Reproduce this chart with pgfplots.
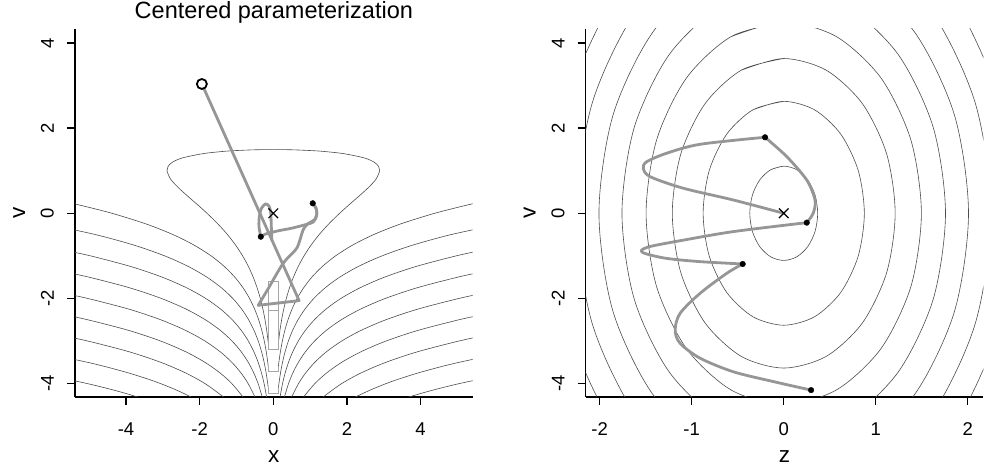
\documentclass[border=0pt]{standalone}
\usepackage{fontspec}
\setmainfont{Liberation Sans}
\usepackage{graphicx}
\usepackage{pgfplots}
\pgfplotsset{compat=1.18}
\usepackage{pgfplotstable}

\definecolor{traj}{RGB}{150,150,150}

% contour lines of the centered funnel (right half, x >= 0; mirrored for x < 0)
\pgfplotstableread{
x v
0.138 -3.03
0.1429 -3.0
0.1797 -2.75
0.2255 -2.5
0.2824 -2.25
0.3527 -2.0
0.4397 -1.75
0.546 -1.5
0.676 -1.25
0.8332 -1.0
1.0217 -0.75
1.245 -0.5
1.505 -0.25
1.8 0
2.057 0.2
2.322 0.4
2.577 0.6
2.787 0.8
2.888 1.0
2.859 1.1
2.738 1.2
2.468 1.3
1.91 1.4
1.39 1.45
1.065 1.47
0.514 1.49
0 1.496
}\kzero
\pgfplotstableread{
x v
0.138 -3.6
0.1505 -3.5
0.192 -3.25
0.245 -3.0
0.3123 -2.75
0.398 -2.5
0.507 -2.25
0.6454 -2.0
0.8218 -1.75
1.0453 -1.5
1.3293 -1.25
1.6895 -1.0
2.146 -0.75
2.724 -0.5
3.456 -0.25
4.382 0
5.295 0.2
5.82 0.3
}\kone
\pgfplotstableread{
x v
0.1388 -4.09
0.1516 -4.0
0.1944 -3.75
0.2491 -3.5
0.3191 -3.25
0.4088 -3.0
0.5235 -2.75
0.6705 -2.5
0.8585 -2.25
1.0988 -2.0
1.4072 -1.75
1.801 -1.5
2.305 -1.25
2.950 -1.0
3.774 -0.75
4.828 -0.5
6.176 -0.25
}\ktwo
\pgfplotstableread{
x v
0.1677 -4.4
0.1853 -4.3
0.2499 -4.0
0.3207 -3.75
0.4114 -3.5
0.5278 -3.25
0.6772 -3.0
0.8687 -2.75
1.1144 -2.5
1.4295 -2.25
1.8336 -2.0
2.3518 -1.75
3.0164 -1.5
3.8686 -1.25
4.9614 -1.0
5.760 -0.85
}\kthree
\pgfplotstableread{
x v
0.2764 -4.4
0.3054 -4.3
0.4121 -4.0
0.529 -3.75
0.679 -3.5
0.8716 -3.25
1.1188 -3.0
1.4361 -2.75
1.8434 -2.5
2.366 -2.25
3.037 -2.0
3.898 -1.75
5.003 -1.5
5.811 -1.35
}\kfour
\pgfplotstableread{
x v
0.4572 -4.4
0.5053 -4.3
0.6819 -4.0
0.8755 -3.75
1.1241 -3.5
1.4432 -3.25
1.8529 -3.0
2.3788 -2.75
3.054 -2.5
3.921 -2.25
5.034 -2.0
5.732 -1.87
}\kfive
\pgfplotstableread{
x v
0.7535 -4.4
0.8328 -4.3
1.124 -4.0
1.4432 -3.75
1.853 -3.5
2.3793 -3.25
3.0549 -3.0
3.9224 -2.75
5.036 -2.5
5.735 -2.37
}\ksix
\pgfplotstableread{
x v
1.2403 -4.4
1.3708 -4.3
1.8504 -4.0
2.3759 -3.75
3.0506 -3.5
3.917 -3.25
5.0295 -3.0
5.728 -2.87
}\kseven
\pgfplotstableread{
x v
2.0472 -4.4
2.2626 -4.3
2.6286 -4.15
3.0542 -4.0
3.375 -3.9
3.9216 -3.75
4.556 -3.6
5.035 -3.5
5.734 -3.37
}\keight
\pgfplotstableread{
x v
3.3757 -4.4
3.731 -4.3
4.123 -4.2
4.557 -4.1
5.036 -4.0
5.735 -3.87
}\knine

\pgfplotsset{
  rbase/.style={
    scale only axis, width=397.7bp, height=368bp, anchor=south west,
    ymin=-4.312, ymax=4.326,
    axis x line*=bottom, axis y line*=left,
    axis line style={-, line width=1.3bp, black},
    every outer x axis line/.append style={-},
    every outer y axis line/.append style={-},
    tick align=outside, major tick length=8bp,
    tick style={line width=1.3bp, black},
    ytick={-4,-2,0,2,4},
    yticklabels={\rotatebox{90}{-4},\rotatebox{90}{-2},\rotatebox{90}{0},\rotatebox{90}{2},\rotatebox{90}{4}},
    yticklabel style={anchor=east, inner sep=0pt, xshift=-13bp, font=\fontsize{18.5bp}{22bp}\selectfont},
    xticklabel style={anchor=base, yshift=-31bp, font=\fontsize{18.5bp}{22bp}\selectfont},
    xlabel style={at={(axis description cs:0.5,-0.1793)}, anchor=base, font=\fontsize{22.5bp}{26bp}\selectfont},
    ylabel style={at={(axis description cs:-0.1257,0.5)}, anchor=base, font=\fontsize{22.5bp}{26bp}\selectfont},
    title style={at={(axis description cs:0.5,1)}, anchor=base, yshift=5bp, font=\fontsize{23.5bp}{28bp}\selectfont},
  },
  cont/.style={draw=black!70, line width=0.6bp, smooth, mark=none},
  art/.style={draw=black!35, line width=0.6bp, mark=none},
  trj/.style={draw=traj, line width=2.8bp, line cap=round, line join=round, mark=none},
}

\begin{document}
\begin{tikzpicture}[x=1bp,y=1bp]
\path[use as bounding box] (0,0) rectangle (989,473);

% ---------------- left panel ----------------
\begin{axis}[rbase, at={(75bp,76bp)},
  xmin=-5.385, xmax=5.414,
  xtick={-4,-2,0,2,4}, xticklabels={-4,-2,0,2,4},
  xlabel={x}, ylabel={v},
  title={Centered parameterization}]
\addplot[cont] table[x=x,y=v]{\kzero};
\addplot[cont] table[x expr=-\thisrow{x},y=v]{\kzero};
\addplot[cont] table[x=x,y=v]{\kone};
\addplot[cont] table[x expr=-\thisrow{x},y=v]{\kone};
\addplot[cont] table[x=x,y=v]{\ktwo};
\addplot[cont] table[x expr=-\thisrow{x},y=v]{\ktwo};
\addplot[cont] table[x=x,y=v]{\kthree};
\addplot[cont] table[x expr=-\thisrow{x},y=v]{\kthree};
\addplot[cont] table[x=x,y=v]{\kfour};
\addplot[cont] table[x expr=-\thisrow{x},y=v]{\kfour};
\addplot[cont] table[x=x,y=v]{\kfive};
\addplot[cont] table[x expr=-\thisrow{x},y=v]{\kfive};
\addplot[cont] table[x=x,y=v]{\ksix};
\addplot[cont] table[x expr=-\thisrow{x},y=v]{\ksix};
\addplot[cont] table[x=x,y=v]{\kseven};
\addplot[cont] table[x expr=-\thisrow{x},y=v]{\kseven};
\addplot[cont] table[x=x,y=v]{\keight};
\addplot[cont] table[x expr=-\thisrow{x},y=v]{\keight};
\addplot[cont] table[x=x,y=v]{\knine};
\addplot[cont] table[x expr=-\thisrow{x},y=v]{\knine};
\addplot[art] coordinates {(-0.138,-3.03) (-0.138,-1.6) (0.138,-1.6) (0.138,-3.03)};
\addplot[art] coordinates {(-0.138,-2.27) (0.138,-2.27)};
\addplot[art] coordinates {(-0.138,-3.03) (-0.138,-3.2) (0.138,-3.2) (0.138,-3.03)};
\addplot[art] coordinates {(-0.138,-3.6) (-0.138,-3.72) (0.138,-3.72) (0.138,-3.6)};
\addplot[art] coordinates {(-0.138,-4.09) (-0.138,-4.22) (0.138,-4.22) (0.138,-4.09)};
% trajectories
\addplot[trj] coordinates {(-1.94,3.035) (0.70,-2.05) (-0.41,-2.16)};
\addplot[trj, smooth] coordinates {(-0.41,-2.16) (-0.16,-1.8) (0.27,-1.17) (0.635,-0.82) (0.81,-0.39) (0.95,-0.24) (1.12,-0.15) (1.18,-0.02) (1.16,0.12) (1.07,0.235)};
\addplot[trj, smooth] coordinates {(-0.34,-0.55) (-0.22,-0.49) (0.14,-0.41) (0.50,-0.35) (0.86,-0.27) (1.09,-0.2) (1.18,-0.04) (1.16,0.12) (1.07,0.235)};
\addplot[trj, smooth] coordinates {(-0.34,-0.55) (-0.39,-0.31) (-0.38,-0.08) (-0.32,0.12) (-0.21,0.22) (-0.12,0.17) (-0.07,0.02) (-0.055,-0.3) (-0.04,-0.63)};
\addplot[only marks, mark=*, mark size=2.8bp, black] coordinates {(1.07,0.235) (-0.34,-0.55)};
\addplot[only marks, mark=*, mark size=5bp, draw=black, fill=white, line width=1.8bp] coordinates {(-1.94,3.035)};
\addplot[only marks, mark=x, mark size=6.8bp, black, line width=1.2bp] coordinates {(0,0)};
\end{axis}

% ---------------- right panel ----------------
\begin{axis}[rbase, at={(585.7bp,76bp)},
  xmin=-2.152, xmax=2.170,
  xtick={-2,-1,0,1,2}, xticklabels={-2,-1,0,1,2},
  xlabel={z}, ylabel={v}]
\addplot[cont] coordinates {(0,1.107) (-0.1412,1.0227) (-0.2609,0.7828) (-0.3409,0.4236) (-0.369,0) (-0.3409,-0.4236) (-0.2609,-0.7828) (-0.1412,-1.0227) (0,-1.107) (0.1412,-1.0227) (0.2609,-0.7828) (0.3409,-0.4236) (0.369,0) (0.3409,0.4236) (0.2609,0.7828) (0.1412,1.0227) (0,1.107) (-0.1412,1.0227)};
\addplot[cont] coordinates {(0,2.628) (-0.3352,2.428) (-0.6194,1.8583) (-0.8093,1.0057) (-0.876,0) (-0.8093,-1.0057) (-0.6194,-1.8583) (-0.3352,-2.428) (0,-2.628) (0.3352,-2.428) (0.6194,-1.8583) (0.8093,-1.0057) (0.876,0) (0.8093,1.0057) (0.6194,1.8583) (0.3352,2.428) (0,2.628) (-0.3352,2.428)};
\addplot[cont] coordinates {(0,3.633) (-0.4634,3.3565) (-0.8563,2.5689) (-1.1188,1.3903) (-1.211,0) (-1.1188,-1.3903) (-0.8563,-2.5689) (-0.4634,-3.3565) (0,-3.633) (0.4634,-3.3565) (0.8563,-2.5689) (1.1188,-1.3903) (1.211,0) (1.1188,1.3903) (0.8563,2.5689) (0.4634,3.3565) (0,3.633) (-0.4634,3.3565)};
\addplot[cont] coordinates {(0,4.488) (-0.5725,4.1464) (-1.0578,3.1735) (-1.3821,1.7175) (-1.496,0) (-1.3821,-1.7175) (-1.0578,-3.1735) (-0.5725,-4.1464) (0,-4.488) (0.5725,-4.1464) (1.0578,-3.1735) (1.3821,-1.7175) (1.496,0) (1.3821,1.7175) (1.0578,3.1735) (0.5725,4.1464) (0,4.488) (-0.5725,4.1464)};
\addplot[cont] coordinates {(0,5.274) (-0.6728,4.8725) (-1.2431,3.7293) (-1.6242,2.0183) (-1.758,0) (-1.6242,-2.0183) (-1.2431,-3.7293) (-0.6728,-4.8725) (0,-5.274) (0.6728,-4.8725) (1.2431,-3.7293) (1.6242,-2.0183) (1.758,0) (1.6242,2.0183) (1.2431,3.7293) (0.6728,4.8725) (0,5.274) (-0.6728,4.8725)};
\addplot[cont] coordinates {(0,6.024) (-0.7684,5.5654) (-1.4199,4.2596) (-1.8552,2.3053) (-2.008,0) (-1.8552,-2.3053) (-1.4199,-4.2596) (-0.7684,-5.5654) (0,-6.024) (0.7684,-5.5654) (1.4199,-4.2596) (1.8552,-2.3053) (2.008,0) (1.8552,2.3053) (1.4199,4.2596) (0.7684,5.5654) (0,6.024) (-0.7684,5.5654)};
\addplot[cont] coordinates {(0,6.759) (-0.8622,6.2445) (-1.5931,4.7794) (-2.0815,2.5865) (-2.253,0) (-2.0815,-2.5865) (-1.5931,-4.7794) (-0.8622,-6.2445) (0,-6.759) (0.8622,-6.2445) (1.5931,-4.7794) (2.0815,-2.5865) (2.253,0) (2.0815,2.5865) (1.5931,4.7794) (0.8622,6.2445) (0,6.759) (-0.8622,6.2445)};
\addplot[cont] coordinates {(0,7.488) (-0.9552,6.918) (-1.7649,5.2948) (-2.306,2.8655) (-2.496,0) (-2.306,-2.8655) (-1.7649,-5.2948) (-0.9552,-6.918) (0,-7.488) (0.9552,-6.918) (1.7649,-5.2948) (2.306,-2.8655) (2.496,0) (2.306,2.8655) (1.7649,5.2948) (0.9552,6.918) (0,7.488) (-0.9552,6.918)};
% trajectories
\addplot[trj, smooth] coordinates {(0,0) (-0.548,0.312) (-1.09,0.587) (-1.453,0.86) (-1.526,1.056) (-1.489,1.21) (-1.272,1.41) (-0.908,1.62) (-0.203,1.784)};
\addplot[trj, smooth] coordinates {(-0.203,1.784) (0.033,1.33) (0.25,0.78) (0.34,0.31) (0.32,0.0) (0.25,-0.22)};
\addplot[trj, smooth] coordinates {(0.25,-0.22) (-0.548,-0.43) (-1.09,-0.63) (-1.453,-0.78) (-1.55,-0.88) (-1.49,-0.955) (-1.27,-1.06) (-0.91,-1.135) (-0.446,-1.19)};
\addplot[trj, smooth] coordinates {(-0.446,-1.19) (-0.62,-1.41) (-0.91,-1.88) (-1.127,-2.35) (-1.18,-2.74) (-1.127,-3.05) (-0.91,-3.40) (-0.548,-3.72) (-0.113,-3.95) (0.297,-4.15)};
\addplot[only marks, mark=*, mark size=2.8bp, black] coordinates {(-0.203,1.784) (0.25,-0.22) (-0.446,-1.19) (0.297,-4.15)};
\addplot[only marks, mark=x, mark size=6.8bp, black, line width=1.2bp] coordinates {(0,0)};
\end{axis}
\end{tikzpicture}
\end{document}
